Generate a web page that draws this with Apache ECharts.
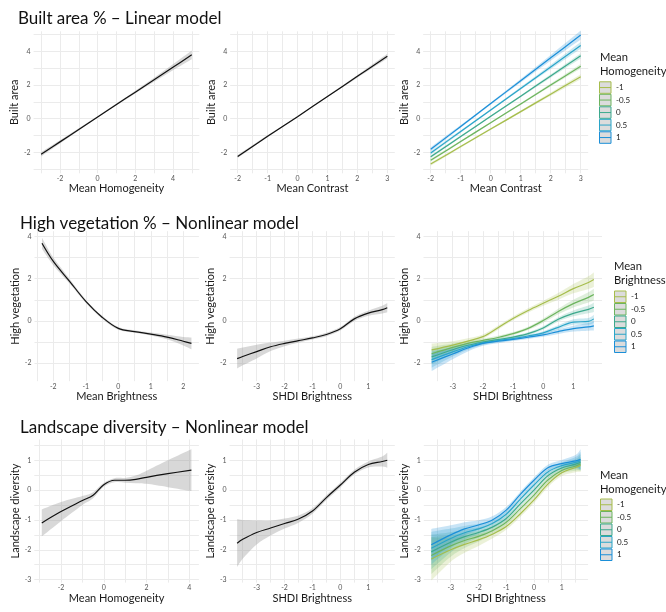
<!DOCTYPE html>
<html><head><meta charset="utf-8">
<script src="https://cdn.jsdelivr.net/npm/echarts@6/dist/echarts.min.js"></script>
<style>html,body{margin:0;padding:0;background:#fff}#c{width:666px;height:612px}</style>
</head><body><div id="c"></div>
<script>
// ---------------- DATA ----------------
const groupLabels = ['-1', '-0.5', '0', '0.5', '1'];

// Row 1: Built area % – Linear model
const x1 = [-3, -2, -1, 0, 1, 2, 3, 4, 5];
const fit1 = [-2.12, -1.38, -0.64, 0.10, 0.84, 1.58, 2.32, 3.06, 3.80];
const se1 = [0.13, 0.10, 0.07, 0.05, 0.06, 0.08, 0.12, 0.18, 0.26];

const x2 = [-2, -1, 0, 1, 2, 3];
const fit2 = [-2.25, -1.05, 0.12, 1.32, 2.52, 3.72];
const se2 = [0.09, 0.06, 0.04, 0.05, 0.08, 0.14];

const x3 = [-2, -1, 0, 1, 2, 3];
const fit3 = [
  [-2.70, -1.66, -0.62, 0.42, 1.46, 2.50],
  [-2.48, -1.36, -0.24, 0.88, 2.00, 3.12],
  [-2.26, -1.06, 0.14, 1.34, 2.54, 3.74],
  [-2.04, -0.76, 0.52, 1.80, 3.08, 4.36],
  [-1.82, -0.46, 0.90, 2.26, 3.62, 4.98]
];
const se3 = [
  [0.10, 0.07, 0.06, 0.07, 0.10, 0.15],
  [0.09, 0.06, 0.05, 0.06, 0.09, 0.14],
  [0.09, 0.06, 0.05, 0.06, 0.10, 0.16],
  [0.10, 0.07, 0.06, 0.08, 0.13, 0.20],
  [0.12, 0.08, 0.07, 0.10, 0.17, 0.27]
];

// Row 2: High vegetation % – Nonlinear model
const x4 = [-2.35, -2, -1.5, -1, -0.5, 0, 0.5, 1, 1.5, 2, 2.25];
const fit4 = [3.68, 2.82, 1.88, 0.93, 0.18, -0.35, -0.50, -0.62, -0.76, -0.96, -1.06];
const se4 = [0.26, 0.18, 0.11, 0.08, 0.07, 0.06, 0.06, 0.07, 0.11, 0.20, 0.28];

const x5 = [-3.7, -3.5, -3, -2.5, -2, -1.5, -1, -0.5, 0, 0.5, 1, 1.5, 1.68];
const fit5 = [-1.78, -1.68, -1.45, -1.22, -1.06, -0.93, -0.80, -0.64, -0.37, 0.10, 0.37, 0.54, 0.63];
const se5 = [0.47, 0.42, 0.32, 0.20, 0.13, 0.10, 0.08, 0.08, 0.08, 0.10, 0.12, 0.18, 0.22];

const x6 = [-3.7, -3, -2.5, -2, -1.5, -1, -0.5, 0, 0.5, 1, 1.5, 1.68];
const fit6 = [
  [-1.37, -1.14, -0.95, -0.74, -0.32, 0.12, 0.50, 0.84, 1.17, 1.53, 1.82, 1.96],
  [-1.55, -1.25, -1.06, -0.92, -0.78, -0.60, -0.35, 0.02, 0.45, 0.82, 1.12, 1.25],
  [-1.70, -1.36, -1.15, -1.00, -0.88, -0.76, -0.60, -0.33, 0.08, 0.36, 0.55, 0.65],
  [-1.83, -1.46, -1.22, -1.04, -0.93, -0.83, -0.71, -0.56, -0.30, -0.05, -0.02, 0.10],
  [-1.95, -1.56, -1.28, -1.06, -0.96, -0.87, -0.77, -0.66, -0.50, -0.36, -0.28, -0.23]
];
const se6 = [
  [0.30, 0.18, 0.13, 0.10, 0.09, 0.09, 0.10, 0.12, 0.16, 0.22, 0.30, 0.35],
  [0.32, 0.18, 0.12, 0.09, 0.08, 0.08, 0.08, 0.10, 0.13, 0.18, 0.24, 0.28],
  [0.35, 0.20, 0.12, 0.09, 0.07, 0.07, 0.07, 0.08, 0.10, 0.14, 0.18, 0.22],
  [0.38, 0.22, 0.14, 0.10, 0.08, 0.07, 0.07, 0.08, 0.10, 0.13, 0.16, 0.20],
  [0.42, 0.25, 0.16, 0.11, 0.09, 0.08, 0.08, 0.09, 0.11, 0.14, 0.18, 0.22]
];

// Row 3: Landscape diversity – Nonlinear model
const x7 = [-2.9, -2, -1, -0.5, 0, 0.5, 1, 1.5, 2, 3, 4.1];
const fit7 = [-1.10, -0.72, -0.35, -0.17, 0.18, 0.33, 0.33, 0.36, 0.43, 0.55, 0.67];
const se7 = [0.45, 0.32, 0.15, 0.10, 0.07, 0.07, 0.08, 0.13, 0.22, 0.45, 0.70];

const x8 = [-3.7, -3.5, -3, -2.5, -2, -1.5, -1, -0.5, 0, 0.5, 1, 1.5, 1.68];
const fit8 = [-1.78, -1.65, -1.42, -1.27, -1.12, -0.97, -0.70, -0.25, 0.17, 0.60, 0.86, 0.96, 1.00];
const se8 = [0.80, 0.65, 0.40, 0.25, 0.17, 0.12, 0.09, 0.08, 0.08, 0.08, 0.10, 0.17, 0.25];

const x9 = [-3.7, -3, -2.5, -2, -1.5, -1, -0.5, 0, 0.5, 1, 1.5, 1.68];
const fit9 = [
  [-2.31, -2.00, -1.82, -1.67, -1.48, -1.22, -0.80, -0.33, 0.20, 0.58, 0.76, 0.83],
  [-2.19, -1.87, -1.69, -1.55, -1.36, -1.08, -0.63, -0.17, 0.34, 0.66, 0.81, 0.88],
  [-2.07, -1.75, -1.56, -1.42, -1.24, -0.95, -0.47, 0.00, 0.48, 0.74, 0.87, 0.93],
  [-1.95, -1.62, -1.43, -1.30, -1.12, -0.81, -0.31, 0.17, 0.61, 0.82, 0.93, 0.98],
  [-1.83, -1.50, -1.30, -1.17, -1.00, -0.67, -0.15, 0.33, 0.75, 0.89, 0.98, 1.03]
];
const se9 = [
  [0.72, 0.40, 0.28, 0.20, 0.14, 0.11, 0.10, 0.10, 0.10, 0.11, 0.16, 0.22],
  [0.62, 0.36, 0.25, 0.18, 0.13, 0.10, 0.09, 0.09, 0.09, 0.10, 0.16, 0.24],
  [0.58, 0.34, 0.24, 0.17, 0.12, 0.10, 0.09, 0.09, 0.09, 0.10, 0.17, 0.27],
  [0.55, 0.33, 0.23, 0.17, 0.12, 0.10, 0.09, 0.09, 0.09, 0.11, 0.18, 0.30],
  [0.53, 0.32, 0.22, 0.16, 0.12, 0.10, 0.09, 0.09, 0.10, 0.12, 0.20, 0.34]
];

// Tick labels and grid-line positions
const xLab1 = [-2, 0, 2, 4];            const xGrid1 = [-3, -2, -1, 0, 1, 2, 3, 4, 5];
const xLab23 = [-2, -1, 0, 1, 2, 3];    const xGrid23 = [-2, -1.5, -1, -0.5, 0, 0.5, 1, 1.5, 2, 2.5, 3];
const xLab4 = [-2, -1, 0, 1, 2];        const xGrid4 = [-2.5, -2, -1.5, -1, -0.5, 0, 0.5, 1, 1.5, 2];
const xLabS = [-3, -2, -1, 0, 1];       const xGridS = [-3.5, -3, -2.5, -2, -1.5, -1, -0.5, 0, 0.5, 1, 1.5];
const xLab7 = [-2, 0, 2, 4];            const xGrid7 = [-3, -2, -1, 0, 1, 2, 3, 4];
const yLab12 = [-2, 0, 2, 4];           const yGrid1 = [-3, -2, -1, 0, 1, 2, 3, 4, 5];
const yGrid2 = [-2, -1, 0, 1, 2, 3, 4];
const yLab3 = [-3, -2, -1, 0, 1];       const yGrid3 = [-3, -2.5, -2, -1.5, -1, -0.5, 0, 0.5, 1, 1.5];

// ---------------- STYLE / LAYOUT ----------------
const FONT = 'Lato, "Open Sans", sans-serif';
const groupColors = ['#a6bd4c', '#6db45e', '#3ca98d', '#2aa5c8', '#1b8fd8'];
const bandAlpha = ['rgba(166,189,76,0.22)', 'rgba(109,180,94,0.22)', 'rgba(60,169,141,0.22)', 'rgba(42,165,200,0.24)', 'rgba(27,143,216,0.24)'];
const greyBand = 'rgba(153,153,153,0.38)';

const rows = [
  { top: 31.3, height: 142.0, min: -3.25, max: 5.2, grid: yGrid1, labels: yLab12 },
  { top: 231.2, height: 150.0, min: -2.85, max: 4.25, grid: yGrid2, labels: yLab12 },
  { top: 439.4, height: 143.2, min: -3.1, max: 1.70, grid: yGrid3, labels: yLab3 }
];
const panels = [
  { row: 0, left: 33.6, width: 165.7, min: -3.4, max: 5.4, grid: xGrid1, labels: xLab1, xName: 'Mean Homogeneity', yName: 'Built area' },
  { row: 0, left: 230.2, width: 164.6, min: -2.25, max: 3.25, grid: xGrid23, labels: xLab23, xName: 'Mean Contrast', yName: 'Built area' },
  { row: 0, left: 423.2, width: 165.0, min: -2.25, max: 3.25, grid: xGrid23, labels: xLab23, xName: 'Mean Contrast', yName: 'Built area' },
  { row: 1, left: 34.5, width: 164.4, min: -2.58, max: 2.48, grid: xGrid4, labels: xLab4, xName: 'Mean Brightness', yName: 'High vegetation' },
  { row: 1, left: 229.6, width: 165.2, min: -3.97, max: 1.95, grid: xGridS, labels: xLabS, xName: 'SHDI Brightness', yName: 'High vegetation' },
  { row: 1, left: 423.5, width: 178.5, min: -3.97, max: 1.95, grid: xGridS, labels: xLabS, xName: 'SHDI Brightness', yName: 'High vegetation' },
  { row: 2, left: 34.3, width: 164.6, min: -3.25, max: 4.45, grid: xGrid7, labels: xLab7, xName: 'Mean Homogeneity', yName: 'Landscape diversity' },
  { row: 2, left: 229.6, width: 165.2, min: -3.97, max: 1.95, grid: xGridS, labels: xLabS, xName: 'SHDI Brightness', yName: 'Landscape diversity' },
  { row: 2, left: 423.8, width: 164.3, min: -3.97, max: 1.95, grid: xGridS, labels: xLabS, xName: 'SHDI Brightness', yName: 'Landscape diversity' }
];

const tickLabelStyle = { fontSize: 7, color: '#555', fontFamily: FONT };
const nameStyle = { fontSize: 11, color: '#1a1a1a', fontFamily: FONT };
const splitStyle = { show: true, lineStyle: { color: '#ebebeb', width: 1 } };

const grids = [], xAxes = [], yAxes = [];
panels.forEach((p, i) => {
  const r = rows[p.row];
  grids.push({ left: p.left, top: r.top, width: p.width, height: r.height, containLabel: false, outerBoundsMode: 'none' });
  xAxes.push({
    type: 'value', gridIndex: i, min: p.min, max: p.max,
    name: p.xName, nameLocation: 'middle', nameGap: 8, nameTextStyle: nameStyle,
    axisLine: { show: false }, axisTick: { show: false, customValues: p.grid },
    axisLabel: { customValues: p.labels, margin: 2, ...tickLabelStyle },
    splitLine: splitStyle
  });
  yAxes.push({
    type: 'value', gridIndex: i, min: r.min, max: r.max,
    name: p.yName, nameLocation: 'middle', nameGap: 11, nameTextStyle: nameStyle,
    axisLine: { show: false }, axisTick: { show: false, customValues: r.grid },
    axisLabel: { customValues: r.labels, margin: 3, ...tickLabelStyle },
    splitLine: splitStyle
  });
});

// Smooth outline through screen points (Catmull-Rom -> cubic Bezier)
function spline(pts) {
  let d = '';
  for (let i = 0; i < pts.length - 1; i++) {
    const p0 = pts[i - 1] || pts[i], p1 = pts[i], p2 = pts[i + 1], p3 = pts[i + 2] || pts[i + 1];
    const c1x = p1[0] + (p2[0] - p0[0]) / 6, c1y = p1[1] + (p2[1] - p0[1]) / 6;
    const c2x = p2[0] - (p3[0] - p1[0]) / 6, c2y = p2[1] - (p3[1] - p1[1]) / 6;
    d += ' C' + c1x + ',' + c1y + ' ' + c2x + ',' + c2y + ' ' + p2[0] + ',' + p2[1];
  }
  return d;
}
function bandSeries(idx, xs, fit, se, color, name) {
  return {
    type: 'custom', name: name, xAxisIndex: idx, yAxisIndex: idx, silent: true, z: 1,
    data: xs.map((x, i) => [x, fit[i] - se[i], fit[i] + se[i]]),
    encode: { x: 0, y: [1, 2] },
    renderItem: function (params, api) {
      if (params.dataIndex !== 0) return null;
      const up = xs.map((x, i) => api.coord([x, fit[i] + se[i]]));
      const dn = xs.map((x, i) => api.coord([x, fit[i] - se[i]])).reverse();
      const d = 'M' + up[0][0] + ',' + up[0][1] + spline(up) + ' L' + dn[0][0] + ',' + dn[0][1] + spline(dn) + ' Z';
      return { type: 'path', shape: { pathData: d }, style: { fill: color, stroke: null } };
    }
  };
}
function lineSeries(idx, xs, fit, color, name) {
  return {
    type: 'line', name: name, xAxisIndex: idx, yAxisIndex: idx, z: 3,
    data: xs.map((x, i) => [x, fit[i]]),
    smooth: 0.35, symbol: 'none', silent: true,
    itemStyle: { color: color }, lineStyle: { color: color, width: 1.2 }
  };
}

const series = [];
const singles = [[0, x1, fit1, se1], [1, x2, fit2, se2], [3, x4, fit4, se4], [4, x5, fit5, se5], [6, x7, fit7, se7], [7, x8, fit8, se8]];
singles.forEach(s => {
  series.push(bandSeries(s[0], s[1], s[2], s[3], greyBand, 'ci' + s[0]));
  series.push(lineSeries(s[0], s[1], s[2], '#111', 'fit' + s[0]));
});
const multis = [[2, x3, fit3, se3], [5, x6, fit6, se6], [8, x9, fit9, se9]];
multis.forEach(m => {
  groupLabels.forEach((g, k) => series.push(bandSeries(m[0], m[1], m[2][k], m[3][k], bandAlpha[k], 'ci' + m[0] + '_' + g)));
  groupLabels.forEach((g, k) => series.push(lineSeries(m[0], m[1], m[2][k], groupColors[k], g)));
});

const keyIcon = 'path://M0,0H12V12H0Z M0,6H12';
function legendAt(left, top) {
  return {
    orient: 'vertical', left: left, top: top, padding: 0, itemGap: 0,
    itemWidth: 11.5, itemHeight: 11.6, icon: keyIcon, selectedMode: false,
    textStyle: { fontSize: 8, color: '#1a1a1a', fontFamily: FONT },
    data: groupLabels.map((g, k) => ({
      name: g, icon: keyIcon,
      itemStyle: { color: '#dcdcdc', borderColor: groupColors[k], borderWidth: 1 }
    }))
  };
}
const titleStyle = { fontSize: 17, fontWeight: 'normal', color: '#111', fontFamily: FONT };
function legTitle(x, y, txt) {
  return {
    type: 'text', left: x, top: y, silent: true,
    style: { text: txt, fontSize: 11.2, lineHeight: 14, fill: '#1a1a1a', fontFamily: FONT }
  };
}

const option = {
  animation: false,
  backgroundColor: '#fff',
  textStyle: { fontFamily: FONT },
  title: [
    { text: 'Built area % – Linear model', left: 18, top: 10.5, padding: 0, textStyle: titleStyle },
    { text: 'High vegetation % – Nonlinear model', left: 20, top: 215, padding: 0, textStyle: titleStyle },
    { text: 'Landscape diversity – Nonlinear model', left: 20, top: 419, padding: 0, textStyle: titleStyle }
  ],
  graphic: [
    legTitle(600, 50.5, 'Mean\nHomogeneity'),
    legTitle(614, 259, 'Mean\nBrightness'),
    legTitle(600, 468, 'Mean\nHomogeneity')
  ],
  legend: [legendAt(599, 81.3), legendAt(614, 290.5), legendAt(600, 498.5)],
  grid: grids, xAxis: xAxes, yAxis: yAxes, series: series
};
const chart = echarts.init(document.getElementById('c'), null, { renderer: 'canvas' });
chart.setOption(option);
</script></body></html>
